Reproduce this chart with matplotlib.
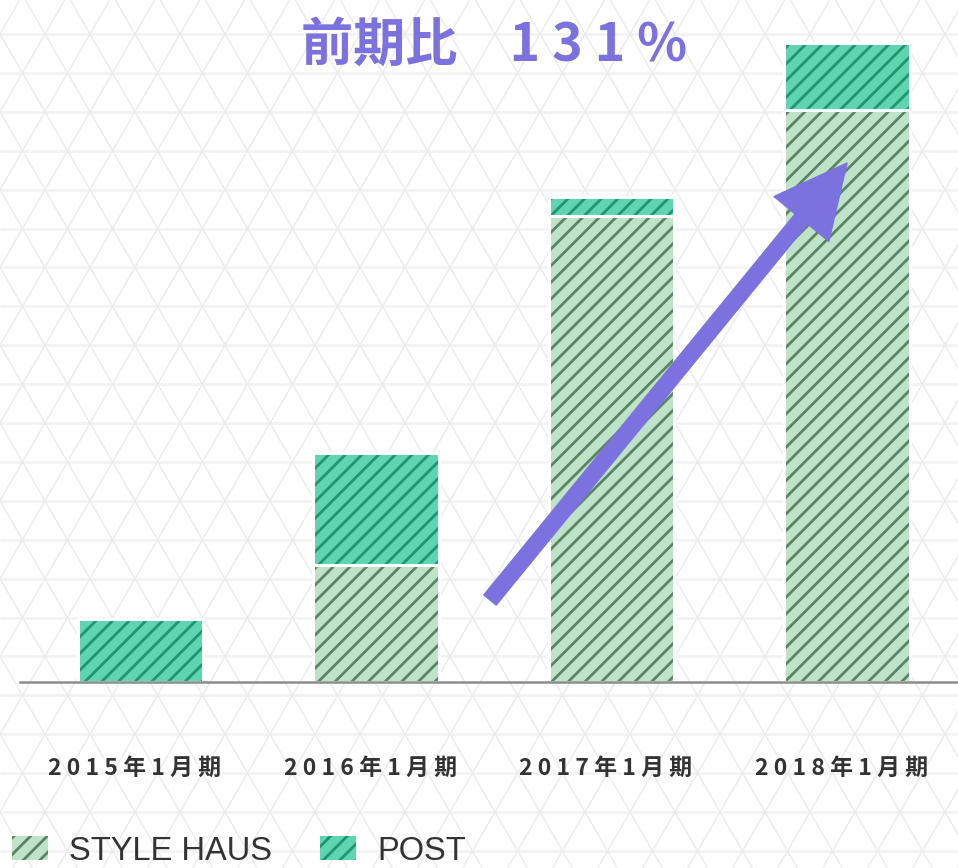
import matplotlib
matplotlib.use('Agg')
import matplotlib.pyplot as plt
import numpy as np
from matplotlib.collections import LineCollection
from matplotlib.patches import Patch, FancyArrowPatch, ArrowStyle

# ---- data ----
categories = ['2015年1月期', '2016年1月期', '2017年1月期', '2018年1月期']
style_haus = [0.0, 11.7, 46.6, 57.2]
post = [6.3, 11.2, 1.9, 6.7]
series_names = ['STYLE HAUS', 'POST']
title_label = '前期比'
title_value = '131%'

# ---- style ----
CJK = ['Noto Sans CJK JP', 'DejaVu Sans']
SH_FACE, SH_HATCH = '#bfe3c6', '#5a8463'
PO_FACE, PO_HATCH = '#5fd4b0', '#1f9570'
PURPLE = '#7b72e0'
TXT = '#333333'
plt.rcParams['hatch.linewidth'] = 2.0

W, H = 958, 868
fig = plt.figure(figsize=(W / 100, H / 100), dpi=100)
fig.patch.set_facecolor('white')

# ---- decorative triangular lattice background ----
dx, dy, y0 = 45.0, 38.9, 34.0
hsegs, dsegs = [], []
for k in range(-2, 25):
    y = y0 + k * dy
    hsegs.append([(0, y), (W, y)])
for j in range(-30, 45):
    x = j * dx
    t0, t1 = -3, 26
    dsegs.append([(x + t0 * dx / 2, y0 + t0 * dy), (x + t1 * dx / 2, y0 + t1 * dy)])
    dsegs.append([(x - t0 * dx / 2, y0 + t0 * dy), (x - t1 * dx / 2, y0 + t1 * dy)])

def to_fig(segs):
    return [[(px / W, 1 - py / H) for px, py in s] for s in segs]

fig.add_artist(LineCollection(to_fig(hsegs), colors='#f3f3f3', linewidths=2.0,
                              transform=fig.transFigure, zorder=-10))
fig.add_artist(LineCollection(to_fig(dsegs), colors='#ebebeb', linewidths=1.0,
                              transform=fig.transFigure, zorder=-9))

# ---- axes ----
ax = fig.add_axes([20 / W, (H - 682) / H, (W - 20) / W, 682 / H])
ax.patch.set_alpha(0)
x = np.arange(len(categories))
width = 0.533
sh = np.array(style_haus)
po = np.array(post)

ax.bar(x, sh, width, color=SH_FACE, edgecolor=SH_HATCH, hatch='//', linewidth=0)
ax.bar(x, po, width, bottom=sh, color=PO_FACE, edgecolor=PO_HATCH, hatch='//', linewidth=0)
ax.bar(x, sh, width, fill=False, edgecolor='white', linewidth=2.2)
ax.bar(x, po, width, bottom=sh, fill=False, edgecolor='white', linewidth=2.2)

ax.set_xlim(-0.5117, 3.471)
ax.set_ylim(0, 68.2)
for s in ['left', 'top', 'right']:
    ax.spines[s].set_visible(False)
ax.spines['bottom'].set_color('#8c8c8c')
ax.spines['bottom'].set_linewidth(1.8)
ax.set_yticks([])
ax.set_xticks(x - 0.025)
ax.set_xticklabels([' '.join(c) for c in categories], family=CJK, fontsize=16.5,
                   fontweight='bold', color=TXT)
ax.tick_params(axis='x', length=0, pad=54)

# ---- growth arrow ----
arrow = FancyArrowPatch(posA=(1.484, 8.2), posB=(3.0, 51.9),
                        arrowstyle=ArrowStyle.Simple(head_length=52, head_width=51, tail_width=11.5),
                        mutation_scale=1, color=PURPLE, shrinkA=0, shrinkB=0, zorder=5)
ax.add_patch(arrow)

# ---- title ----
fig.text(494 / W, 1 - 45 / H, title_label + '\u3000' + ' '.join(title_value),
         ha='center', va='center', fontsize=37.5, fontweight='bold', color=PURPLE, family=CJK)

# ---- legend ----
handles = [Patch(facecolor=SH_FACE, edgecolor=SH_HATCH, hatch='//', linewidth=0),
           Patch(facecolor=PO_FACE, edgecolor=PO_HATCH, hatch='//', linewidth=0)]
fig.legend(handles, series_names, loc='center left', bbox_to_anchor=(12 / W, 17 / H),
           ncol=2, frameon=False, prop={'family': ['Liberation Sans', 'DejaVu Sans'], 'size': 23.5},
           labelcolor=TXT, handlelength=1.1, handleheight=0.75, handletextpad=0.66,
           columnspacing=1.45, borderpad=0, borderaxespad=0)

fig.savefig('out.png', dpi=100, facecolor='white')
